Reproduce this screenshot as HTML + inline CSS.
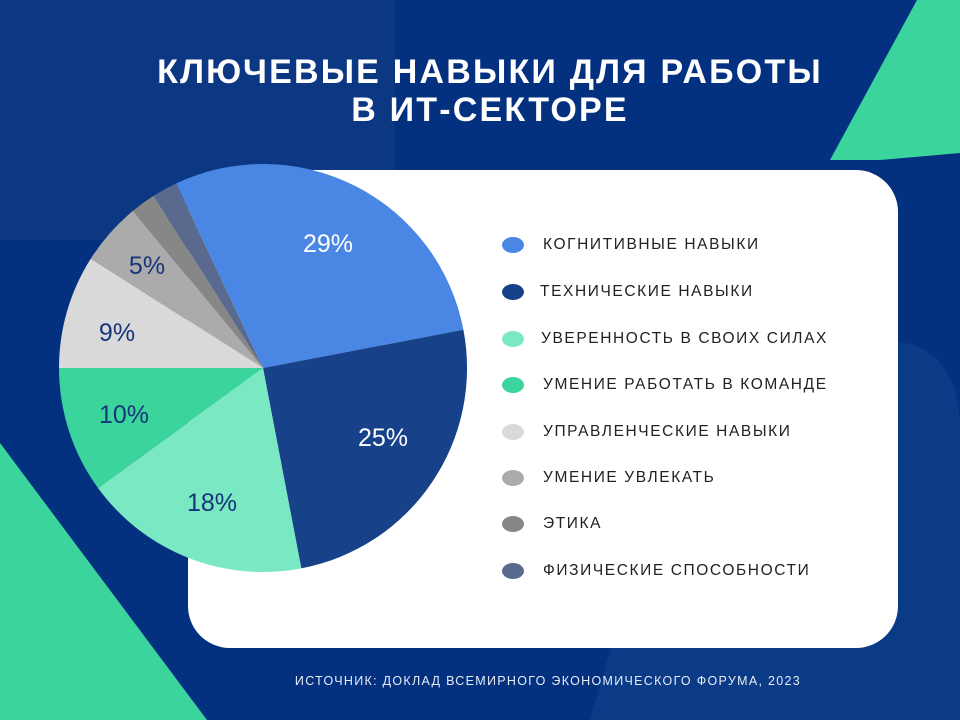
<!DOCTYPE html>
<html><head><meta charset="utf-8"><style>
body{margin:0;width:960px;height:720px;overflow:hidden;background:#03317f;font-family:"Liberation Sans","DejaVu Sans",sans-serif;}
.t{position:absolute;left:10px;width:960px;text-align:center;color:#fff;font-weight:bold;font-size:34px;letter-spacing:2.2px;}
.lg{position:absolute;left:543px;font-size:15.5px;letter-spacing:1.6px;color:#222;}
.dot{position:absolute;left:502px;width:22px;height:16px;border-radius:50%;}
</style></head><body>
<svg width="960" height="720" style="position:absolute;left:0;top:0">
<rect x="0" y="0" width="395" height="240" fill="#0b3783"/>
<rect x="395" y="0" width="565" height="240" fill="#03317f"/>
<path d="M700 340 L880 340 Q960 340 960 430 L960 720 L590 720 Z" fill="#0b3a86"/>
<polygon points="0,443 207,720 0,720" fill="#3bd49d"/>
<polygon points="917,0 960,0 960,153 880,160 830,160" fill="#3bd49d"/>
<rect x="188" y="170" width="710" height="478" rx="42" fill="#fff"/>
<g transform="translate(263,368)">
<path d="M0 0 L-86.9 -184.6 A204 204 0 0 1 200.4 -38.3 Z" fill="#4a86e4"/>
<path d="M0 0 L200.4 -38.3 A204 204 0 0 1 38.3 200.4 Z" fill="#17428a"/>
<path d="M0 0 L38.3 200.4 A204 204 0 0 1 -165 120 Z" fill="#7ae8c3"/>
<path d="M0 0 L-165 120 A204 204 0 0 1 -204 0 Z" fill="#3bd49d"/>
<path d="M0 0 L-204 0 A204 204 0 0 1 -172.2 -109.4 Z" fill="#d9d9d9"/>
<path d="M0 0 L-172.2 -109.4 A204 204 0 0 1 -130 -157.2 Z" fill="#ababab"/>
<path d="M0 0 L-130 -157.2 A204 204 0 0 1 -109.3 -172.2 Z" fill="#878787"/>
<path d="M0 0 L-109.3 -172.2 A204 204 0 0 1 -86.9 -184.6 Z" fill="#5a6a8e"/>
</g>
<g font-family="Liberation Sans,sans-serif" font-size="25" text-anchor="middle">
<text x="328" y="252" fill="#fff">29%</text>
<text x="383" y="446" fill="#fff">25%</text>
<text x="212" y="511" fill="#17357a">18%</text>
<text x="124" y="423" fill="#17357a">10%</text>
<text x="117" y="341" fill="#17357a">9%</text>
<text x="147" y="274" fill="#17357a">5%</text>
</g>
</svg>
<div class="t" style="top:53px">КЛЮЧЕВЫЕ НАВЫКИ ДЛЯ РАБОТЫ</div>
<div class="t" style="top:91px">В ИТ-СЕКТОРЕ</div>
<div class="dot" style="top:237px;background:#4a86e4"></div><div class="lg" style="top:236px">КОГНИТИВНЫЕ НАВЫКИ</div>
<div class="dot" style="top:284px;background:#17428a"></div><div class="lg" style="top:283px;left:540px">ТЕХНИЧЕСКИЕ НАВЫКИ</div>
<div class="dot" style="top:331px;background:#7ae8c3"></div><div class="lg" style="top:330px;left:541px">УВЕРЕННОСТЬ В СВОИХ СИЛАХ</div>
<div class="dot" style="top:377px;background:#3bd49d"></div><div class="lg" style="top:376px">УМЕНИЕ РАБОТАТЬ В КОМАНДЕ</div>
<div class="dot" style="top:424px;background:#d9d9d9"></div><div class="lg" style="top:423px">УПРАВЛЕНЧЕСКИЕ НАВЫКИ</div>
<div class="dot" style="top:470px;background:#ababab"></div><div class="lg" style="top:469px">УМЕНИЕ УВЛЕКАТЬ</div>
<div class="dot" style="top:516px;background:#878787"></div><div class="lg" style="top:515px">ЭТИКА</div>
<div class="dot" style="top:563px;background:#5a6a8e"></div><div class="lg" style="top:562px">ФИЗИЧЕСКИЕ СПОСОБНОСТИ</div>
<div style="position:absolute;left:0;width:1096px;top:674px;text-align:center;color:#e6ecf5;font-size:12.5px;letter-spacing:1.3px">ИСТОЧНИК: ДОКЛАД ВСЕМИРНОГО ЭКОНОМИЧЕСКОГО ФОРУМА, 2023</div>
</body></html>
